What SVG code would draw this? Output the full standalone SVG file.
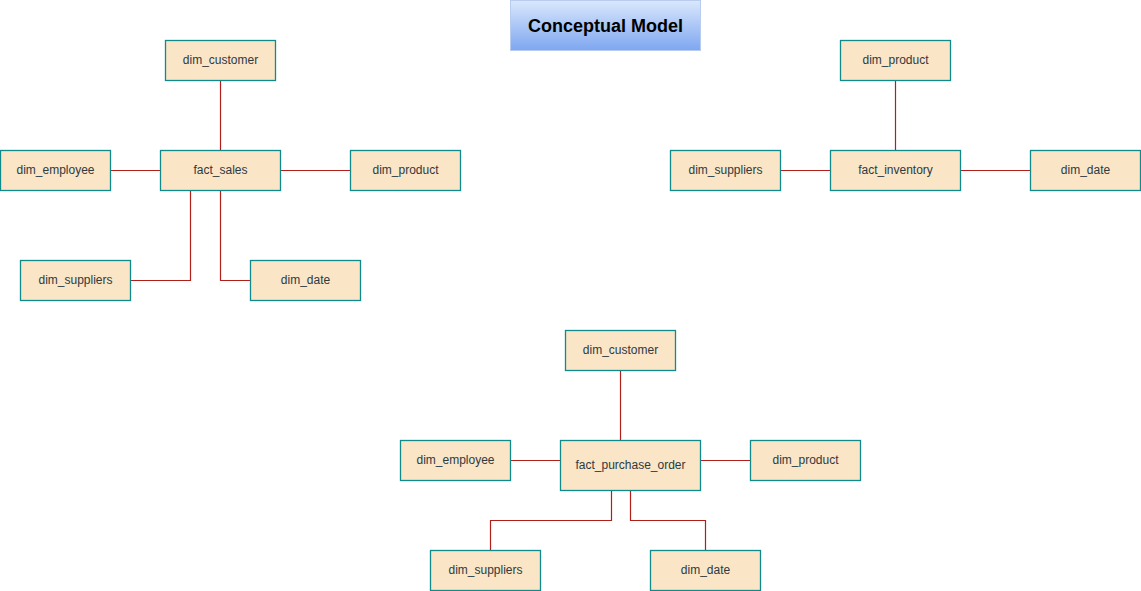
<svg xmlns="http://www.w3.org/2000/svg" width="1141" height="591" viewBox="0 0 1141 591">
<defs>
<linearGradient id="tg" x1="0" y1="0" x2="0" y2="1">
<stop offset="0" stop-color="#dae8fc"/>
<stop offset="1" stop-color="#7ea6f0"/>
</linearGradient>
<style>
.n rect{fill:#fae5c7;stroke:#0f8b8d;stroke-width:1.3}
.n text{font-family:"Liberation Sans",Arial,sans-serif;font-size:12px;fill:#2d3a3f;text-anchor:middle;dominant-baseline:central}
.c path{fill:none;stroke:#b0201a;stroke-width:1.2}
</style>
</defs>
<rect width="1141" height="591" fill="#ffffff"/>
<g id="title">
<rect x="510.5" y="0.5" width="190" height="50" fill="url(#tg)" stroke="#b8ccf0" stroke-width="1"/>
<text x="605.5" y="25.5" font-family="Liberation Sans,Arial,sans-serif" font-size="18" font-weight="bold" fill="#000" text-anchor="middle" dominant-baseline="central">Conceptual Model</text>
</g>
<g class="c" id="connectors">
<path d="M220.5 80.5V150.5"/>
<path d="M110.5 170.5H160.5"/>
<path d="M280.5 170.5H350.5"/>
<path d="M190.5 190.5V280.5H130.5"/>
<path d="M220.5 190.5V280.5H250.5"/>
<path d="M895.5 80.5V150.5"/>
<path d="M780.5 170.5H830.5"/>
<path d="M960.5 170.5H1030.5"/>
<path d="M620.5 370.5V440.5"/>
<path d="M510.5 460.5H560.5"/>
<path d="M700.5 460.5H750.5"/>
<path d="M611.5 490.5V520.5H490.5V550.5"/>
<path d="M630.5 490.5V520.5H705.5V550.5"/>
</g>
<g class="n" id="s_dim_customer"><rect x="165.5" y="40.5" width="110" height="40"/><text x="220.5" y="59.5">dim_customer</text></g>
<g class="n" id="s_dim_employee"><rect x="0.5" y="150.5" width="110" height="40"/><text x="55.5" y="169.5">dim_employee</text></g>
<g class="n" id="s_fact_sales"><rect x="160.5" y="150.5" width="120" height="40"/><text x="220.5" y="169.5">fact_sales</text></g>
<g class="n" id="s_dim_product"><rect x="350.5" y="150.5" width="110" height="40"/><text x="405.5" y="169.5">dim_product</text></g>
<g class="n" id="s_dim_suppliers"><rect x="20.5" y="260.5" width="110" height="40"/><text x="75.5" y="279.5">dim_suppliers</text></g>
<g class="n" id="s_dim_date"><rect x="250.5" y="260.5" width="110" height="40"/><text x="305.5" y="279.5">dim_date</text></g>
<g class="n" id="i_dim_product"><rect x="840.5" y="40.5" width="110" height="40"/><text x="895.5" y="59.5">dim_product</text></g>
<g class="n" id="i_dim_suppliers"><rect x="670.5" y="150.5" width="110" height="40"/><text x="725.5" y="169.5">dim_suppliers</text></g>
<g class="n" id="i_fact_inventory"><rect x="830.5" y="150.5" width="130" height="40"/><text x="895.5" y="169.5">fact_inventory</text></g>
<g class="n" id="i_dim_date"><rect x="1030.5" y="150.5" width="110" height="40"/><text x="1085.5" y="169.5">dim_date</text></g>
<g class="n" id="p_dim_customer"><rect x="565.5" y="330.5" width="110" height="40"/><text x="620.5" y="349.5">dim_customer</text></g>
<g class="n" id="p_dim_employee"><rect x="400.5" y="440.5" width="110" height="40"/><text x="455.5" y="459.5">dim_employee</text></g>
<g class="n" id="p_fact_purchase_order"><rect x="560.5" y="440.5" width="140" height="50"/><text x="630.5" y="464.5">fact_purchase_order</text></g>
<g class="n" id="p_dim_product"><rect x="750.5" y="440.5" width="110" height="40"/><text x="805.5" y="459.5">dim_product</text></g>
<g class="n" id="p_dim_suppliers"><rect x="430.5" y="550.5" width="110" height="40"/><text x="485.5" y="569.5">dim_suppliers</text></g>
<g class="n" id="p_dim_date"><rect x="650.5" y="550.5" width="110" height="40"/><text x="705.5" y="569.5">dim_date</text></g>
</svg>
